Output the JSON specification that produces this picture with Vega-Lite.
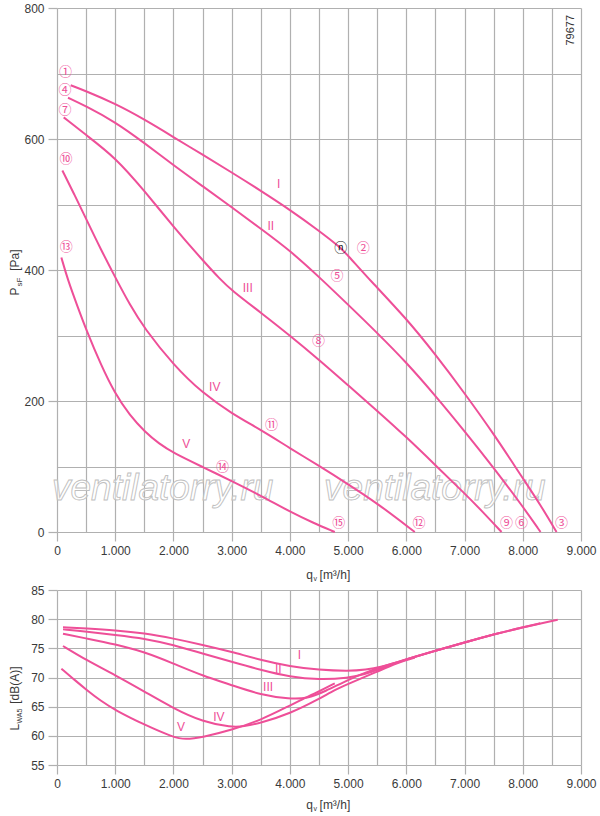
{
"$schema": "https://vega.github.io/schema/vega-lite/v6.json",
"padding": {"left": 8, "top": 2, "right": 4, "bottom": 4},
"background": "white",
"config": {
  "view": {"stroke": null},
  "font": "Liberation Sans",
  "axis": {"labelFont": "Liberation Sans", "titleFont": "Liberation Sans", "labelColor": "#3a3a3a", "titleColor": "#3a3a3a", "labelFontSize": 12, "titleFontSize": 12, "titleFontWeight": "normal", "gridColor": "#b0b0b0", "gridWidth": 1.2, "gridOpacity": 1, "tickColor": "#b0b0b0", "tickWidth": 1.2, "tickSize": 9, "labelPadding": 4, "domain": false, "labelFlush": false, "labelOverlap": false}
},
"datasets": {
  "pq": [
    {"c":"I","q":235,"p":682},{"c":"I","q":500,"p":673},{"c":"I","q":1000,"p":654},{"c":"I","q":1500,"p":630},{"c":"I","q":2000,"p":603},{"c":"I","q":2500,"p":576},{"c":"I","q":3000,"p":549},{"c":"I","q":3500,"p":521},{"c":"I","q":4000,"p":492},{"c":"I","q":4500,"p":460},{"c":"I","q":4860,"p":435},{"c":"I","q":5000,"p":422},{"c":"I","q":5370,"p":385},{"c":"I","q":6000,"p":326},{"c":"I","q":6500,"p":271},{"c":"I","q":7000,"p":212},{"c":"I","q":7500,"p":150},{"c":"I","q":8000,"p":82},{"c":"I","q":8300,"p":42},{"c":"I","q":8580,"p":0},
    {"c":"II","q":189,"p":663},{"c":"II","q":500,"p":650},{"c":"II","q":1000,"p":626},{"c":"II","q":1500,"p":594},{"c":"II","q":2000,"p":560},{"c":"II","q":2500,"p":528},{"c":"II","q":3000,"p":496},{"c":"II","q":3500,"p":463},{"c":"II","q":4000,"p":430},{"c":"II","q":4542,"p":386},{"c":"II","q":5000,"p":347},{"c":"II","q":5500,"p":304},{"c":"II","q":6000,"p":259},{"c":"II","q":6500,"p":208},{"c":"II","q":7000,"p":154},{"c":"II","q":7500,"p":98},{"c":"II","q":8000,"p":39},{"c":"II","q":8305,"p":0},
    {"c":"III","q":115,"p":633},{"c":"III","q":500,"p":606},{"c":"III","q":1000,"p":572},{"c":"III","q":1500,"p":521},{"c":"III","q":2000,"p":466},{"c":"III","q":2500,"p":415},{"c":"III","q":2800,"p":386},{"c":"III","q":3000,"p":369},{"c":"III","q":3500,"p":335},{"c":"III","q":4000,"p":300},{"c":"III","q":4500,"p":263},{"c":"III","q":5000,"p":224},{"c":"III","q":5500,"p":185},{"c":"III","q":6000,"p":145},{"c":"III","q":6500,"p":102},{"c":"III","q":7000,"p":59},{"c":"III","q":7300,"p":32},{"c":"III","q":7635,"p":0},
    {"c":"IV","q":92,"p":552},{"c":"IV","q":300,"p":515},{"c":"IV","q":500,"p":478},{"c":"IV","q":750,"p":432},{"c":"IV","q":1000,"p":389},{"c":"IV","q":1250,"p":347},{"c":"IV","q":1500,"p":311},{"c":"IV","q":2000,"p":255},{"c":"IV","q":2500,"p":212},{"c":"IV","q":3000,"p":181},{"c":"IV","q":3500,"p":156},{"c":"IV","q":4000,"p":128},{"c":"IV","q":4500,"p":101},{"c":"IV","q":5000,"p":73},{"c":"IV","q":5500,"p":44},{"c":"IV","q":6145,"p":0},
    {"c":"V","q":75,"p":419},{"c":"V","q":189,"p":384},{"c":"V","q":350,"p":345},{"c":"V","q":505,"p":308},{"c":"V","q":750,"p":256},{"c":"V","q":991,"p":212},{"c":"V","q":1250,"p":178},{"c":"V","q":1507,"p":153},{"c":"V","q":1750,"p":135},{"c":"V","q":1993,"p":121},{"c":"V","q":2508,"p":99},{"c":"V","q":2996,"p":78},{"c":"V","q":3511,"p":55},{"c":"V","q":3998,"p":31},{"c":"V","q":4400,"p":14},{"c":"V","q":4771,"p":0}
  ],
  "pcirc": [
    {"t":"①","q":144,"p":702},{"t":"④","q":137,"p":675},{"t":"⑦","q":137,"p":645},{"t":"⑩","q":155,"p":570},{"t":"⑬","q":161,"p":435},
    {"t":"②","q":5258,"p":434},{"t":"ⓝ","q":4874,"p":434},{"t":"⑤","q":4811,"p":391},{"t":"⑧","q":4490,"p":291},{"t":"⑪","q":3683,"p":164},{"t":"⑭","q":2841,"p":100},
    {"t":"③","q":8664,"p":14},{"t":"⑥","q":7977,"p":14},{"t":"⑨","q":7720,"p":14},{"t":"⑫","q":6219,"p":14},{"t":"⑮","q":4840,"p":14}
  ],
  "proman": [
    {"t":"I","q":3809,"p":532},{"t":"II","q":3672,"p":467},{"t":"III","q":3276,"p":372},{"t":"IV","q":2709,"p":222},{"t":"V","q":2220,"p":134}
  ],
  "wm": [
    {"t":"ventilatorry.ru","q":1816,"p":66},{"t":"ventilatorry.ru","q":6489,"p":66}
  ],
  "code": [{"t":"79677","q":8834,"p":766}],
  "lw": [
    {"c":"I","q":103,"l":78.6},{"c":"I","q":500,"l":78.4},{"c":"I","q":1000,"l":78.1},{"c":"I","q":1500,"l":77.6},{"c":"I","q":2000,"l":76.7},{"c":"I","q":2500,"l":75.6},{"c":"I","q":3000,"l":74.4},{"c":"I","q":3500,"l":73.0},{"c":"I","q":4000,"l":71.9},{"c":"I","q":4500,"l":71.3},{"c":"I","q":5000,"l":71.1},{"c":"I","q":5300,"l":71.3},{"c":"I","q":5600,"l":71.9},{"c":"I","q":5800,"l":72.5},{"c":"I","q":6000,"l":73.1},{"c":"I","q":6500,"l":74.6},{"c":"I","q":7000,"l":76.0},{"c":"I","q":7500,"l":77.4},{"c":"I","q":8000,"l":78.6},{"c":"I","q":8600,"l":79.9},
    {"c":"II","q":103,"l":78.25},{"c":"II","q":500,"l":77.9},{"c":"II","q":1000,"l":77.3},{"c":"II","q":1500,"l":76.7},{"c":"II","q":2000,"l":75.6},{"c":"II","q":2500,"l":74.1},{"c":"II","q":3000,"l":72.7},{"c":"II","q":3500,"l":71.3},{"c":"II","q":4000,"l":70.1},{"c":"II","q":4500,"l":69.6},{"c":"II","q":5000,"l":69.9},{"c":"II","q":5300,"l":70.6},{"c":"II","q":5500,"l":71.3},{"c":"II","q":5800,"l":72.4},{"c":"II","q":6000,"l":73.1},{"c":"II","q":6500,"l":74.6},{"c":"II","q":7000,"l":76.0},{"c":"II","q":7500,"l":77.4},{"c":"II","q":8000,"l":78.6},{"c":"II","q":8300,"l":79.3},
    {"c":"III","q":103,"l":77.5},{"c":"III","q":500,"l":76.7},{"c":"III","q":1000,"l":75.7},{"c":"III","q":1500,"l":74.4},{"c":"III","q":2000,"l":72.4},{"c":"III","q":2500,"l":70.3},{"c":"III","q":3000,"l":68.7},{"c":"III","q":3500,"l":67.0},{"c":"III","q":4000,"l":66.3},{"c":"III","q":4300,"l":66.4},{"c":"III","q":4600,"l":67.6},{"c":"III","q":5000,"l":69.6},{"c":"III","q":5400,"l":71.3},{"c":"III","q":5800,"l":72.5},{"c":"III","q":6000,"l":73.1},{"c":"III","q":6500,"l":74.6},{"c":"III","q":7000,"l":76.0},{"c":"III","q":7500,"l":77.4},{"c":"III","q":7635,"l":77.7},
    {"c":"IV","q":103,"l":75.4},{"c":"IV","q":500,"l":73.0},{"c":"IV","q":1000,"l":70.4},{"c":"IV","q":1500,"l":67.6},{"c":"IV","q":2000,"l":64.7},{"c":"IV","q":2500,"l":62.4},{"c":"IV","q":3000,"l":61.45},{"c":"IV","q":3200,"l":61.6},{"c":"IV","q":3500,"l":62.2},{"c":"IV","q":4000,"l":63.8},{"c":"IV","q":4500,"l":66.3},{"c":"IV","q":4771,"l":67.9},{"c":"IV","q":5000,"l":68.9},{"c":"IV","q":5500,"l":71.0},{"c":"IV","q":5800,"l":72.3},{"c":"IV","q":6000,"l":73.0},{"c":"IV","q":6145,"l":73.4},
    {"c":"V","q":75,"l":71.5},{"c":"V","q":300,"l":69.6},{"c":"V","q":505,"l":67.9},{"c":"V","q":750,"l":66.0},{"c":"V","q":1000,"l":64.4},{"c":"V","q":1500,"l":61.9},{"c":"V","q":2000,"l":59.75},{"c":"V","q":2200,"l":59.35},{"c":"V","q":2500,"l":59.75},{"c":"V","q":3000,"l":61.0},{"c":"V","q":3500,"l":62.7},{"c":"V","q":4000,"l":65.2},{"c":"V","q":4200,"l":66.2},{"c":"V","q":4500,"l":67.6},{"c":"V","q":4771,"l":69.0}
  ],
  "lroman": [
    {"t":"I","q":4165,"l":73.9},{"t":"II","q":3800,"l":71.4},{"t":"III","q":3625,"l":68.35},{"t":"IV","q":2780,"l":63.2},{"t":"V","q":2130,"l":61.5}
  ]
},
"vconcat": [
 {
  "width": 524, "height": 524,
  "resolve": {"axis": {"x": "independent", "y": "independent"}},
  "layer": [
   {"data": {"name": "wm"},
    "mark": {"type": "text", "fontSize": 37, "fontStyle": "italic", "font": "Liberation Sans", "fill": "#ffffff", "fillOpacity": 0.5, "stroke": "#c0c0c0", "strokeWidth": 0.9, "baseline": "middle", "align": "center"},
    "encoding": {
      "x": {"field": "q", "type": "quantitative", "scale": {"domain": [0, 9000], "nice": false}, "axis": null},
      "y": {"field": "p", "type": "quantitative", "scale": {"domain": [0, 800], "nice": false}, "axis": null},
      "text": {"field": "t"}}},
   {"data": {"name": "pq"},
    "mark": {"type": "line", "color": "#ee4f98", "strokeWidth": 2, "interpolate": "basis"},
    "encoding": {
      "x": {"field": "q", "type": "quantitative", "scale": {"domain": [0, 9000], "nice": false},
        "axis": {"values": [0,500,1000,1500,2000,2500,3000,3500,4000,4500,5000,5500,6000,6500,7000,7500,8000,8500,9000],
          "labelExpr": "datum.value % 1000 === 0 ? replace(format(datum.value, ','), ',', '.') : ''",
          "tickOpacity": {"condition": {"test": "datum.value % 1000 === 0", "value": 1}, "value": 0},
          "grid": true, "title": "q\u00a0\u00a0[m³/h]", "titleAlign": "left", "titleAnchor": "start", "titleBaseline": "alphabetic", "titleX": 248.7, "titleY": 46}},
      "y": {"field": "p", "type": "quantitative", "scale": {"domain": [0, 800], "nice": false},
        "axis": {"values": [0,100,200,300,400,500,600,700,800],
          "labelExpr": "datum.value % 200 === 0 ? '' + datum.value : ''",
          "tickOpacity": {"condition": {"test": "datum.value % 200 === 0", "value": 1}, "value": 0},
          "grid": true, "title": "P\u00a0\u00a0\u00a0\u00a0\u00a0[Pa]", "titleAngle": 270, "titleAlign": "left", "titleAnchor": "start", "titleBaseline": "alphabetic", "titleX": -39, "titleY": 287}},
      "detail": {"field": "c"}}},
   {"data": {"name": "pcirc"},
    "mark": {"type": "text", "font": "Noto Sans CJK JP", "fontSize": 13, "baseline": "middle", "align": "center"},
    "encoding": {
      "x": {"field": "q", "type": "quantitative", "scale": {"domain": [0, 9000], "nice": false}, "axis": null},
      "y": {"field": "p", "type": "quantitative", "scale": {"domain": [0, 800], "nice": false}, "axis": null},
      "text": {"field": "t"},
      "color": {"condition": {"test": "datum.t === 'ⓝ'", "value": "#111111"}, "value": "#ee4f98"}}},
   {"data": {"name": "proman"},
    "mark": {"type": "text", "font": "Liberation Sans", "fontSize": 12, "baseline": "middle", "align": "center", "color": "#ee4f98"},
    "encoding": {
      "x": {"field": "q", "type": "quantitative", "scale": {"domain": [0, 9000], "nice": false},
        "axis": {"orient": "bottom", "labels": false, "ticks": false, "grid": false, "domain": false, "title": "v", "titleFontSize": 7, "titleAlign": "left", "titleAnchor": "start", "titleBaseline": "alphabetic", "titleX": 256, "titleY": 48}},
      "y": {"field": "p", "type": "quantitative", "scale": {"domain": [0, 800], "nice": false},
        "axis": {"orient": "left", "labels": false, "ticks": false, "grid": false, "domain": false, "title": "sF", "titleFontSize": 8, "titleAngle": 270, "titleAlign": "left", "titleAnchor": "start", "titleBaseline": "alphabetic", "titleX": -35.5, "titleY": 278}},
      "text": {"field": "t"}}},
   {"data": {"name": "code"},
    "mark": {"type": "text", "font": "Liberation Sans", "fontSize": 11, "angle": 270, "baseline": "middle", "align": "center", "color": "#333333"},
    "encoding": {
      "x": {"field": "q", "type": "quantitative", "scale": {"domain": [0, 9000], "nice": false}, "axis": null},
      "y": {"field": "p", "type": "quantitative", "scale": {"domain": [0, 800], "nice": false}, "axis": null},
      "text": {"field": "t"}}}
  ]
 },
 {
  "width": 524, "height": 175,
  "resolve": {"axis": {"x": "independent", "y": "independent"}},
  "layer": [
   {"data": {"name": "lw"},
    "mark": {"type": "line", "color": "#ee4f98", "strokeWidth": 2, "interpolate": "basis"},
    "encoding": {
      "x": {"field": "q", "type": "quantitative", "scale": {"domain": [0, 9000], "nice": false},
        "axis": {"values": [0,500,1000,1500,2000,2500,3000,3500,4000,4500,5000,5500,6000,6500,7000,7500,8000,8500,9000],
          "labelExpr": "datum.value % 1000 === 0 ? replace(format(datum.value, ','), ',', '.') : ''",
          "tickOpacity": {"condition": {"test": "datum.value % 1000 === 0", "value": 1}, "value": 0},
          "grid": true, "title": "q\u00a0\u00a0[m³/h]", "titleAlign": "left", "titleAnchor": "start", "titleBaseline": "alphabetic", "titleX": 248.7, "titleY": 43}},
      "y": {"field": "l", "type": "quantitative", "scale": {"domain": [55, 85], "nice": false, "zero": false},
        "axis": {"values": [55,60,65,70,75,80,85],
          "grid": true, "title": "L\u00a0\u00a0\u00a0\u00a0\u00a0\u00a0[dB(A)]", "titleAngle": 270, "titleAlign": "left", "titleAnchor": "start", "titleBaseline": "alphabetic", "titleX": -39, "titleY": 140}},
      "detail": {"field": "c"}}},
   {"data": {"name": "lroman"},
    "mark": {"type": "text", "font": "Liberation Sans", "fontSize": 12, "baseline": "middle", "align": "center", "color": "#ee4f98"},
    "encoding": {
      "x": {"field": "q", "type": "quantitative", "scale": {"domain": [0, 9000], "nice": false},
        "axis": {"orient": "bottom", "labels": false, "ticks": false, "grid": false, "domain": false, "title": "v", "titleFontSize": 7, "titleAlign": "left", "titleAnchor": "start", "titleBaseline": "alphabetic", "titleX": 256, "titleY": 45}},
      "y": {"field": "l", "type": "quantitative", "scale": {"domain": [55, 85], "nice": false, "zero": false},
        "axis": {"orient": "left", "labels": false, "ticks": false, "grid": false, "domain": false, "title": "WA5", "titleFontSize": 7, "titleAngle": 270, "titleAlign": "left", "titleAnchor": "start", "titleBaseline": "alphabetic", "titleX": -35.5, "titleY": 133}},
      "text": {"field": "t"}}}
  ]
 }
],
"spacing": 58,
"bounds": "flush"
}
